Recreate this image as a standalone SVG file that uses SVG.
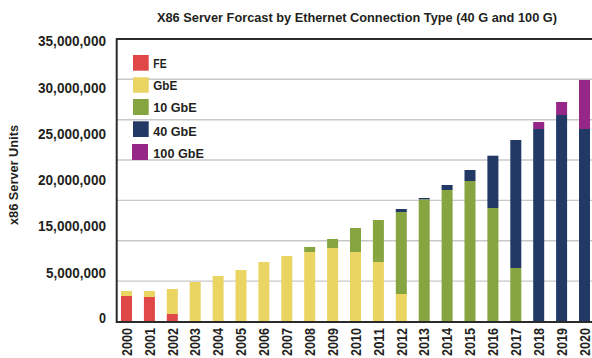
<svg xmlns="http://www.w3.org/2000/svg" width="592" height="358" viewBox="0 0 592 358">
<style>
text{font-family:"Liberation Sans",Arial,sans-serif;font-weight:bold;fill:#231f20}
.grid{stroke:#c8c8c8;stroke-width:1.4}
.axis{stroke:#2b2b2b;stroke-width:2;fill:none}
.fe{fill:#e04848}.gbe{fill:#ead462}.g10{fill:#86a541}.g40{fill:#223966}.g100{fill:#972689}
.yl{font-size:14.5px;text-anchor:end}
.xl{font-size:14.5px;text-anchor:end}
.lg{font-size:13.5px}
</style>
<rect width="592" height="358" fill="#ffffff"/>
<text id="title" x="157" y="21.7" font-size="13.5" textLength="400" lengthAdjust="spacingAndGlyphs">X86 Server Forcast by Ethernet Connection Type (40 G and 100 G)</text>
<g id="gridlines">
<line class="grid" x1="116" y1="79.3" x2="592" y2="79.3"/>
<line class="grid" x1="116" y1="119.7" x2="592" y2="119.7"/>
<line class="grid" x1="116" y1="160" x2="592" y2="160"/>
<line class="grid" x1="116" y1="200.4" x2="592" y2="200.4"/>
<line class="grid" x1="116" y1="240.7" x2="592" y2="240.7"/>
<line class="grid" x1="116" y1="281.1" x2="592" y2="281.1"/>
</g>
<g id="y-labels">
<text class="yl" x="106" y="46" textLength="68" lengthAdjust="spacingAndGlyphs">35,000,000</text>
<text class="yl" x="106" y="92.7" textLength="68" lengthAdjust="spacingAndGlyphs">30,000,000</text>
<text class="yl" x="106" y="139" textLength="68" lengthAdjust="spacingAndGlyphs">25,000,000</text>
<text class="yl" x="106" y="185" textLength="68" lengthAdjust="spacingAndGlyphs">20,000,000</text>
<text class="yl" x="106" y="231" textLength="68" lengthAdjust="spacingAndGlyphs">15,000,000</text>
<text class="yl" x="106" y="277.7" textLength="60" lengthAdjust="spacingAndGlyphs">5,000,000</text>
<text class="yl" x="106" y="323" textLength="7" lengthAdjust="spacingAndGlyphs">0</text>
</g>
<text id="y-title" transform="translate(17.5,175) rotate(-90)" font-size="12.5" text-anchor="middle" textLength="100" lengthAdjust="spacingAndGlyphs">x86 Server Units</text>
<g id="bars">
<rect class="fe" x="121" y="296" width="11" height="26"/><rect class="gbe" x="121" y="291" width="11" height="5"/>
<rect class="fe" x="143.9" y="297" width="11" height="25"/><rect class="gbe" x="143.9" y="291" width="11" height="6"/>
<rect class="fe" x="166.8" y="314" width="11" height="8"/><rect class="gbe" x="166.8" y="289" width="11" height="25"/>
<rect class="gbe" x="189.7" y="282" width="11" height="40"/>
<rect class="gbe" x="212.6" y="276" width="11" height="46"/>
<rect class="gbe" x="235.5" y="270" width="11" height="52"/>
<rect class="gbe" x="258.4" y="262" width="11" height="60"/>
<rect class="gbe" x="281.3" y="256" width="11" height="66"/>
<rect class="gbe" x="304.2" y="252" width="11" height="70"/><rect class="g10" x="304.2" y="247" width="11" height="5"/>
<rect class="gbe" x="327.1" y="248" width="11" height="74"/><rect class="g10" x="327.1" y="239" width="11" height="9"/>
<rect class="gbe" x="350" y="252" width="11" height="70"/><rect class="g10" x="350" y="228" width="11" height="24"/>
<rect class="gbe" x="372.9" y="262" width="11" height="60"/><rect class="g10" x="372.9" y="220" width="11" height="42"/>
<rect class="gbe" x="395.8" y="294" width="11" height="28"/><rect class="g10" x="395.8" y="212" width="11" height="82"/><rect class="g40" x="395.8" y="209" width="11" height="3"/>
<rect class="g10" x="418.7" y="199.3" width="11" height="122.7"/><rect class="g40" x="418.7" y="198" width="11" height="1.3"/>
<rect class="g10" x="441.6" y="190" width="11" height="132"/><rect class="g40" x="441.6" y="185" width="11" height="5"/>
<rect class="g10" x="464.5" y="181" width="11" height="141"/><rect class="g40" x="464.5" y="170" width="11" height="11"/>
<rect class="g10" x="487.4" y="208" width="11" height="114"/><rect class="g40" x="487.4" y="155.7" width="11" height="52.3"/>
<rect class="g10" x="510.3" y="268" width="11" height="54"/><rect class="g40" x="510.3" y="140" width="11" height="128"/>
<rect class="g40" x="533.2" y="129" width="11" height="193"/><rect class="g100" x="533.2" y="122" width="11" height="7"/>
<rect class="g40" x="556.1" y="115" width="11" height="207"/><rect class="g100" x="556.1" y="102" width="11" height="13"/>
<rect class="g40" x="579" y="129" width="11" height="193"/><rect class="g100" x="579" y="80" width="11" height="49"/>
</g>
<g id="axes">
<line class="axis" x1="116" y1="39" x2="592" y2="39" stroke-width="1.6"/>
<line class="axis" x1="116.7" y1="38.2" x2="116.7" y2="323"/>
<line class="axis" x1="116" y1="322" x2="592" y2="322"/>
</g>
<g id="x-labels">
<text class="xl" transform="translate(131.7,328) rotate(-90)" textLength="28" lengthAdjust="spacingAndGlyphs">2000</text>
<text class="xl" transform="translate(154.6,328) rotate(-90)" textLength="28" lengthAdjust="spacingAndGlyphs">2001</text>
<text class="xl" transform="translate(177.5,328) rotate(-90)" textLength="28" lengthAdjust="spacingAndGlyphs">2002</text>
<text class="xl" transform="translate(200.4,328) rotate(-90)" textLength="28" lengthAdjust="spacingAndGlyphs">2003</text>
<text class="xl" transform="translate(223.3,328) rotate(-90)" textLength="28" lengthAdjust="spacingAndGlyphs">2004</text>
<text class="xl" transform="translate(246.2,328) rotate(-90)" textLength="28" lengthAdjust="spacingAndGlyphs">2005</text>
<text class="xl" transform="translate(269.1,328) rotate(-90)" textLength="28" lengthAdjust="spacingAndGlyphs">2006</text>
<text class="xl" transform="translate(292,328) rotate(-90)" textLength="28" lengthAdjust="spacingAndGlyphs">2007</text>
<text class="xl" transform="translate(314.9,328) rotate(-90)" textLength="28" lengthAdjust="spacingAndGlyphs">2008</text>
<text class="xl" transform="translate(337.8,328) rotate(-90)" textLength="28" lengthAdjust="spacingAndGlyphs">2009</text>
<text class="xl" transform="translate(360.7,328) rotate(-90)" textLength="28" lengthAdjust="spacingAndGlyphs">2010</text>
<text class="xl" transform="translate(383.6,328) rotate(-90)" textLength="28" lengthAdjust="spacingAndGlyphs">2011</text>
<text class="xl" transform="translate(406.5,328) rotate(-90)" textLength="28" lengthAdjust="spacingAndGlyphs">2012</text>
<text class="xl" transform="translate(429.4,328) rotate(-90)" textLength="28" lengthAdjust="spacingAndGlyphs">2013</text>
<text class="xl" transform="translate(452.3,328) rotate(-90)" textLength="28" lengthAdjust="spacingAndGlyphs">2014</text>
<text class="xl" transform="translate(475.2,328) rotate(-90)" textLength="28" lengthAdjust="spacingAndGlyphs">2015</text>
<text class="xl" transform="translate(498.1,328) rotate(-90)" textLength="28" lengthAdjust="spacingAndGlyphs">2016</text>
<text class="xl" transform="translate(521,328) rotate(-90)" textLength="28" lengthAdjust="spacingAndGlyphs">2017</text>
<text class="xl" transform="translate(543.9,328) rotate(-90)" textLength="28" lengthAdjust="spacingAndGlyphs">2018</text>
<text class="xl" transform="translate(566.8,328) rotate(-90)" textLength="28" lengthAdjust="spacingAndGlyphs">2019</text>
<text class="xl" transform="translate(589.7,328) rotate(-90)" textLength="28" lengthAdjust="spacingAndGlyphs">2020</text>
</g>
<g id="legend">
<g id="legend-fe"><rect class="fe" x="133" y="55" width="15.7" height="15.7"/><text class="lg" x="153.3" y="67.7" textLength="13.3" lengthAdjust="spacingAndGlyphs">FE</text></g>
<g id="legend-gbe"><rect class="gbe" x="133" y="77.3" width="15.7" height="15.4"/><text class="lg" x="153.3" y="90" textLength="24" lengthAdjust="spacingAndGlyphs">GbE</text></g>
<g id="legend-10gbe"><rect class="g10" x="133" y="99" width="15.7" height="16"/><text class="lg" x="153.3" y="112.3" textLength="43.3" lengthAdjust="spacingAndGlyphs">10 GbE</text></g>
<g id="legend-40gbe"><rect class="g40" x="133" y="121.3" width="15.7" height="15.7"/><text class="lg" x="153.3" y="135.7" textLength="43.3" lengthAdjust="spacingAndGlyphs">40 GbE</text></g>
<g id="legend-100gbe"><rect class="g100" x="132" y="144" width="16" height="16"/><text class="lg" x="153.3" y="158.3" textLength="50.7" lengthAdjust="spacingAndGlyphs">100 GbE</text></g>
</g>
</svg>
